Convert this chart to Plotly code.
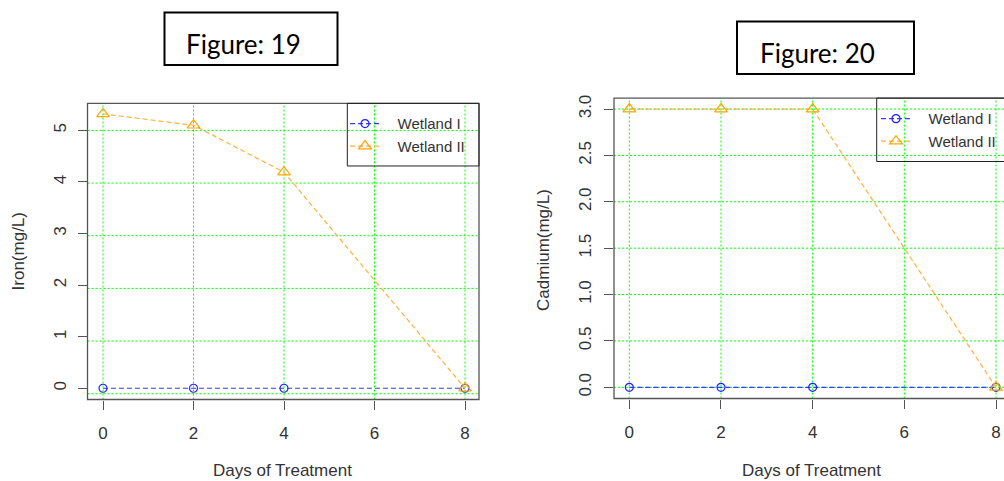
import plotly.graph_objects as go

W, H = 1004, 481

# ---------------- data ----------------
days = [0, 2, 4, 8]
iron_wetland1 = [0, 0, 0, 0]
iron_wetland2 = [5.32, 5.10, 4.19, 0]
cad_wetland1 = [0, 0, 0, 0]
cad_wetland2 = [3.0, 3.0, 3.0, 0]
x_ticks = [0, 2, 4, 6, 8]
iron_ticks = [0, 1, 2, 3, 4, 5]
cad_ticks = [0, 0.5, 1.0, 1.5, 2.0, 2.5, 3.0]
series_names = ["Wetland I", "Wetland II"]
panel_titles = ["Figure: 19", "Figure: 20"]
y_titles = ["Iron(mg/L)", "Cadmium(mg/L)"]
x_title = "Days of Treatment"

def px(x):
    return x / W

def py(y):
    return 1 - y / H

FONT = "Liberation Sans, Arial, sans-serif"
TXT = "#333333"
FRAME = "#555555"
GREEN = "#00FF00"
BLUE = "#3a3aff"
ORANGE = "#FFB13B"
PAD = "\u00a0\u00a0\u00a0"

fig = go.Figure()

def add_series(xa, ya, y1, y2, legend):
    fig.add_trace(go.Scatter(
        x=days, y=y1, xaxis=xa, yaxis=ya, mode="lines+markers",
        name=PAD + series_names[0], legend=legend,
        line=dict(color=BLUE, width=1.2, dash="5px,3px"),
        marker=dict(symbol="circle-open", size=8, color="#2020ff",
                    line=dict(width=1.2, color="#2020ff")),
    ))
    fig.add_trace(go.Scatter(
        x=days, y=y2, xaxis=xa, yaxis=ya, mode="lines+markers",
        name=PAD + series_names[1], legend=legend,
        line=dict(color=ORANGE, width=1.2, dash="5px,3px"),
        marker=dict(symbol="triangle-up-open", size=11, color="#FFA500",
                    line=dict(width=1.2, color="#FFA500")),
    ))

add_series("x", "y", iron_wetland1, iron_wetland2, "legend")
add_series("x2", "y2", cad_wetland1, cad_wetland2, "legend2")

axis_common = dict(
    showline=False, zeroline=False, ticks="outside", ticklen=9, tickwidth=1,
    tickcolor=FRAME, tickfont=dict(family=FONT, size=17, color=TXT),
    fixedrange=True,
)

fig.update_layout(
    width=W, height=H, autosize=False,
    margin=dict(l=0, r=0, t=0, b=0),
    paper_bgcolor="white", plot_bgcolor="white",
    showlegend=True,
    xaxis=dict(domain=[px(87.5), px(479)], range=[-0.3425, 8.309],
               tickvals=x_ticks, showgrid=False, anchor="y",
               ticklabelstandoff=9, **axis_common),
    yaxis=dict(domain=[py(399), py(101)], range=[-0.218, 5.524],
               tickvals=iron_ticks, showgrid=False, tickangle=-90,
               anchor="x", ticklabelstandoff=5, **axis_common),
    xaxis2=dict(domain=[px(614), 1.0], range=[-0.334, 8.174],
                tickvals=x_ticks, showgrid=False, anchor="y2",
                ticklabelstandoff=9, **axis_common),
    yaxis2=dict(domain=[py(398), py(95.7)], range=[-0.121, 3.118],
                tickvals=cad_ticks, tickformat=".1f", showgrid=False,
                tickangle=-90, anchor="x2", ticklabelstandoff=6,
                **axis_common),
    legend=dict(x=px(345), y=py(105), xanchor="left", yanchor="top",
                bgcolor="rgba(0,0,0,0)", borderwidth=0,
                font=dict(family=FONT, size=15, color=TXT),
                itemclick=False, itemdoubleclick=False),
    legend2=dict(x=px(876), y=py(100), xanchor="left", yanchor="top",
                 bgcolor="rgba(0,0,0,0)", borderwidth=0,
                 font=dict(family=FONT, size=15, color=TXT),
                 itemclick=False, itemdoubleclick=False),
)

shapes = []
gl = dict(color=GREEN, width=1, dash="2px,2px")
# vertical grid lines at x ticks
for xa, ya in (("x", "y domain"), ("x2", "y2 domain")):
    for v in x_ticks:
        shapes.append(dict(type="line", xref=xa, yref=ya, x0=v, x1=v,
                           y0=0, y1=1, layer="below", line=gl))
# left panel horizontal grid (evenly spaced, slightly offset from ticks as in original)
grid_step = 53.0 / 51.9
for k in range(6):
    v = 5 - k * grid_step
    shapes.append(dict(type="line", xref="x domain", yref="y", x0=0, x1=1,
                       y0=v, y1=v, layer="below", line=gl))
# right panel horizontal grid at ticks
for v in cad_ticks:
    shapes.append(dict(type="line", xref="x2 domain", yref="y2", x0=0, x1=1,
                       y0=v, y1=v, layer="below", line=gl))
# plot frames
shapes.append(dict(type="rect", xref="paper", yref="paper",
                   x0=px(87.5), x1=px(479), y0=py(399), y1=py(101),
                   line=dict(color=FRAME, width=1.3)))
shapes.append(dict(type="rect", xref="paper", yref="paper",
                   x0=px(614), x1=px(1011), y0=py(398), y1=py(95.7),
                   line=dict(color=FRAME, width=1.3)))
# legend boxes
shapes.append(dict(type="rect", xref="paper", yref="paper",
                   x0=px(347.3), x1=px(479), y0=py(164), y1=py(101),
                   line=dict(color="#222222", width=1)))
shapes.append(dict(type="rect", xref="paper", yref="paper",
                   x0=px(876.7), x1=px(1011), y0=py(159.5), y1=py(95.7),
                   line=dict(color="#222222", width=1)))
# figure title boxes
shapes.append(dict(type="rect", xref="paper", yref="paper",
                   x0=px(164.5), x1=px(337.5), y0=py(62.5), y1=py(9.5),
                   line=dict(color="black", width=2)))
shapes.append(dict(type="rect", xref="paper", yref="paper",
                   x0=px(737), x1=px(914), y0=py(71.5), y1=py(18.5),
                   line=dict(color="black", width=2)))
fig.update_layout(shapes=shapes)

ann = []
title_font = dict(family="Lato, Open Sans, sans-serif", size=26, color="black")
ann.append(dict(text=panel_titles[0], x=px(243.7), y=py(41), xref="paper",
                yref="paper", showarrow=False, xanchor="center",
                yanchor="middle", font=title_font))
ann.append(dict(text=panel_titles[1], x=px(817.7), y=py(50), xref="paper",
                yref="paper", showarrow=False, xanchor="center",
                yanchor="middle", font=title_font))
axt_font = dict(family=FONT, size=17, color=TXT)
ann.append(dict(text=x_title, x=px(282), y=py(470), xref="paper", yref="paper",
                showarrow=False, xanchor="center", yanchor="middle", font=axt_font))
ann.append(dict(text=x_title, x=px(811), y=py(470), xref="paper", yref="paper",
                showarrow=False, xanchor="center", yanchor="middle", font=axt_font))
ann.append(dict(text=y_titles[0], x=px(18), y=py(250), xref="paper", yref="paper",
                showarrow=False, xanchor="center", yanchor="middle",
                textangle=-90, font=axt_font))
ann.append(dict(text=y_titles[1], x=px(544), y=py(248.5), xref="paper",
                yref="paper", showarrow=False, xanchor="center",
                yanchor="middle", textangle=-90, font=axt_font))
fig.update_layout(annotations=ann)

fig.write_html("out.html", config={"displayModeBar": False})
